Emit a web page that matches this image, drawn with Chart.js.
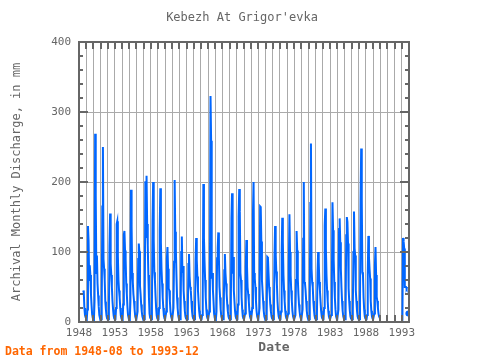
<!DOCTYPE html>
<html>
<head>
<meta charset="utf-8">
<script src="https://cdn.jsdelivr.net/npm/chart.js@4.4.1/dist/chart.umd.min.js"></script>
<style>
  html, body { margin: 0; padding: 0; background: #fff; }
  #wrap { width: 480px; height: 360px; }
</style>
</head>
<body>
<div id="wrap"><canvas id="discharge_chart" width="480" height="360"></canvas></div>
<script>
// monthly discharge (mm), one row per year, first row starts at 1948-08
const firstYear = 1948;
const firstMonth = 8;
const discharge = [
  45, 42, 20, 10, 7,
  5, 4, 18, 137, 116, 60, 81, 67, 40, 24, 11, 6,
  5, 4, 30, 269, 181, 70, 95, 55, 38, 22, 10, 6,
  5, 4, 20, 165, 250, 90, 76, 60, 29, 18, 9, 5,
  4, 4, 15, 108, 155, 83, 67, 50, 30, 18, 9, 5,
  4, 4, 20, 140, 144, 95, 60, 45, 35, 20, 9, 5,
  5, 4, 25, 125, 130, 102, 90, 55, 40, 22, 10, 6,
  5, 4, 30, 189, 136, 70, 57, 40, 30, 18, 8, 5,
  4, 4, 15, 90, 112, 101, 52, 40, 25, 15, 8, 5,
  4, 4, 30, 201, 120, 209, 140, 110, 67, 35, 12, 6,
  5, 4, 25, 143, 200, 117, 71, 60, 38, 20, 9, 5,
  4, 4, 20, 130, 191, 114, 76, 55, 35, 20, 9, 5,
  4, 4, 15, 90, 107, 76, 48, 45, 30, 16, 8, 5,
  4, 4, 20, 86, 203, 129, 105, 67, 35, 20, 9, 5,
  4, 4, 15, 100, 122, 70, 80, 45, 30, 16, 8, 5,
  4, 4, 12, 83, 97, 65, 50, 45, 30, 16, 8, 5,
  4, 4, 15, 89, 120, 89, 65, 45, 30, 16, 8, 5,
  4, 4, 10, 40, 197, 120, 86, 60, 35, 18, 8, 5,
  4, 4, 15, 60, 323, 259, 62, 70, 46, 30, 12, 6,
  5, 4, 15, 91, 105, 128, 93, 50, 35, 18, 8, 5,
  4, 4, 12, 74, 97, 70, 55, 40, 25, 15, 8, 5,
  4, 4, 20, 148, 184, 69, 93, 45, 30, 16, 8, 5,
  4, 4, 25, 150, 190, 158, 70, 60, 35, 18, 8, 5,
  4, 4, 12, 79, 117, 80, 50, 40, 30, 16, 8, 5,
  4, 4, 20, 155, 200, 70, 62, 50, 30, 16, 8, 5,
  4, 4, 20, 165, 164, 115, 60, 45, 30, 16, 8, 5,
  4, 4, 12, 93, 92, 70, 50, 40, 25, 15, 8, 5,
  4, 4, 15, 93, 137, 98, 72, 55, 30, 16, 8, 5,
  4, 4, 15, 98, 149, 114, 67, 45, 30, 16, 8, 5,
  4, 4, 12, 80, 154, 100, 67, 45, 30, 16, 8, 5,
  4, 4, 10, 60, 130, 102, 62, 40, 25, 15, 8, 5,
  4, 4, 18, 119, 200, 57, 55, 45, 30, 16, 8, 5,
  4, 4, 25, 170, 255, 76, 57, 50, 30, 18, 9, 5,
  4, 4, 12, 70, 100, 86, 57, 45, 30, 16, 8, 5,
  4, 4, 20, 138, 162, 105, 67, 45, 30, 16, 8, 5,
  4, 4, 10, 57, 171, 131, 90, 57, 35, 18, 8, 5,
  4, 4, 18, 133, 148, 114, 76, 50, 30, 16, 8, 5,
  4, 4, 18, 124, 150, 143, 112, 48, 30, 16, 8, 5,
  4, 4, 15, 100, 158, 105, 95, 45, 30, 16, 8, 5,
  4, 4, 25, 172, 248, 174, 71, 67, 35, 18, 8, 5,
  4, 4, 10, 67, 123, 93, 76, 62, 30, 16, 8, 5,
  4, 4, 12, 81, 107, 67, 36, 30, 20, 12, 8, 6,
  null, null, null, null, null, null, null, null, null, null, null, null,
  null, null, null, null, null, null, null, null, null, null, null, null,
  null, null, null, null, null, null, null, null, null, null, null, null,
  10, 8, 120, 115, 105, 50, 50, 50, 48, 50, null, 12
];

const xMin = 1948, xMax = 1994;
const yMin = 0, yMax = 400;
const labelEvery = 5;

const points = discharge.map((v, i) => {
  const m = firstMonth - 1 + i;
  return { x: firstYear + Math.floor(m / 12) + (m % 12) / 12, y: v };
});

const isolated = (i) => discharge[i] !== null &&
  (i === 0 || discharge[i - 1] === null) &&
  (i === discharge.length - 1 || discharge[i + 1] === null);

const mono = '"DejaVu Sans Mono", "Liberation Mono", monospace';

const frame = {
  id: 'frame',
  afterDraw(chart) {
    const { ctx, chartArea: a, scales: { x, y } } = chart;
    ctx.save();
    ctx.strokeStyle = '#666';
    ctx.lineWidth = 2;
    ctx.beginPath();
    for (let yr = xMin; yr <= xMax; yr++) {
      const px = Math.round(x.getPixelForValue(yr));
      ctx.moveTo(px, a.top); ctx.lineTo(px, a.top + 7);
      ctx.moveTo(px, a.bottom); ctx.lineTo(px, a.bottom - 7);
    }
    for (let v = yMin; v <= yMax; v += 20) {
      const py = Math.round(y.getPixelForValue(v));
      const len = v % 100 === 0 ? 9 : 4;
      ctx.moveTo(a.left, py); ctx.lineTo(a.left + len, py);
      ctx.moveTo(a.right, py); ctx.lineTo(a.right - len, py);
    }
    ctx.stroke();
    ctx.strokeRect(a.left, a.top, a.right - a.left, a.bottom - a.top);

    ctx.fillStyle = '#666';
    ctx.textAlign = 'center';
    ctx.textBaseline = 'middle';
    ctx.font = '12px ' + mono;
    ctx.fillText("Kebezh At Grigor'evka", 242, 18);
    ctx.font = 'bold 13px ' + mono;
    ctx.fillText('Date', 274, 348);
    ctx.save();
    ctx.translate(17, (a.top + a.bottom) / 2);
    ctx.rotate(-Math.PI / 2);
    ctx.font = '12px ' + mono;
    ctx.fillText('Archival Monthly Discharge, in mm', 0, 0);
    ctx.restore();
    ctx.fillStyle = '#ff6600';
    ctx.textAlign = 'left';
    ctx.font = 'bold 11.5px ' + mono;
    ctx.fillText('Data from 1948-08 to 1993-12', 5, 352);
    ctx.restore();
  }
};

const ctx = document.getElementById('discharge_chart').getContext('2d');

new Chart(ctx, {
  type: 'line',
  data: {
    datasets: [{
      data: points,
      borderColor: '#0066ff',
      backgroundColor: '#0066ff',
      borderWidth: 2,
      fill: false,
      tension: 0,
      spanGaps: false,
      pointRadius: (c) => isolated(c.dataIndex) ? 2 : 0,
      pointHoverRadius: 0,
    }]
  },
  options: {
    responsive: false,
    animation: false,
    layout: { padding: { top: 42, right: 71, left: 0, bottom: 0 } },
    plugins: {
      legend: { display: false },
      tooltip: { enabled: false },
    },
    scales: {
      x: {
        type: 'linear',
        min: xMin,
        max: xMax,
        afterFit: (s) => { s.height = 38; },
        grid: { color: '#aaa', lineWidth: 1, drawTicks: false },
        border: { display: false },
        ticks: {
          stepSize: 1,
          autoSkip: false,
          maxRotation: 0,
          padding: 5,
          color: '#666',
          font: { family: mono, size: 11 },
          callback: (v) => (v - xMin) % labelEvery === 0 ? String(v) : '',
        },
      },
      y: {
        min: yMin,
        max: yMax,
        afterFit: (s) => { s.width = 79; },
        grid: {
          color: (c) => c.tick.value % 100 === 0 ? '#aaa' : 'rgba(0,0,0,0)',
          lineWidth: 1,
          drawTicks: false,
        },
        border: { display: false },
        ticks: {
          stepSize: 20,
          autoSkip: false,
          padding: 8,
          color: '#666',
          font: { family: mono, size: 11 },
          callback: (v) => v % 100 === 0 ? String(v) : '',
        },
      },
    },
  },
  plugins: [frame],
});
</script>
</body>
</html>
